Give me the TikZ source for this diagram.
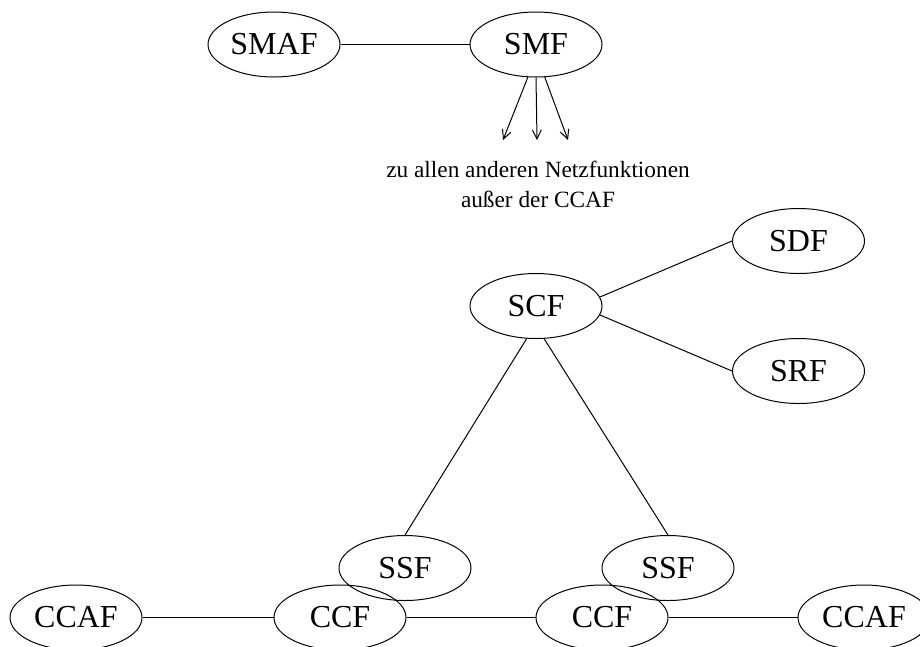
\documentclass[tikz,border=0pt]{standalone}
\usepackage{fontspec}
\setmainfont{Liberation Serif}
\usetikzlibrary{shapes.geometric,arrows.meta}
\begin{document}
\begin{tikzpicture}[x=1pt,y=-1pt,
  fn/.style={ellipse,draw,line width=1pt,inner sep=0pt,
    minimum width=132pt,minimum height=65pt,
    font=\fontsize{32}{38}\selectfont},
  link/.style={line width=1pt},
  fanout/.style={line width=1pt,-{Straight Barb[length=9pt,width=9pt,line width=1pt]}},
  note/.style={inner sep=0pt,anchor=base,font=\fontsize{23.3}{30}\selectfont}]
\clip (0,0) rectangle (920,646);

% management functions
\node[fn] (smaf) at (274,44.5) {SMAF};
\node[fn] (smf)  at (536,44.5) {SMF};
\draw[link] (smaf) -- (smf);

\coordinate (fa) at (503,140);
\coordinate (fb) at (537,140);
\coordinate (fc) at (568,140);
\draw[fanout] (smf.-104) -- (fa);
\draw[fanout] (smf.south) -- (fb);
\draw[fanout] (smf.-75) -- (fc);
\node[note] (nta) at (538,177) {zu allen anderen Netzfunktionen};
\node[note] (ntb) at (538,207) {außer der CCAF};

% service control
\node[fn] (scf) at (536,306) {SCF};
\node[fn] (sdf) at (798.5,241) {SDF};
\node[fn] (srf) at (798.5,371) {SRF};
\draw[link] (scf.8) -- (sdf.west);
\draw[link] (scf.-8) -- (srf.west);

% switching and call control
\node[fn] (ssfa) at (405,568) {SSF};
\node[fn] (ssfb) at (668,568) {SSF};
\node[fn] (ccafa) at (76,617.5) {CCAF};
\node[fn] (ccfa)  at (340,617.5) {CCF};
\node[fn] (ccfb)  at (602,617.5) {CCF};
\node[fn] (ccafb) at (864,617.5) {CCAF};
\draw[link] (scf.-106) -- (ssfa.north);
\draw[link] (scf.-76) -- (ssfb.north);
\draw[link] (ccafa) -- (ccfa);
\draw[link] (ccfa) -- (ccfb);
\draw[link] (ccfb) -- (ccafb);
\end{tikzpicture}
\end{document}
